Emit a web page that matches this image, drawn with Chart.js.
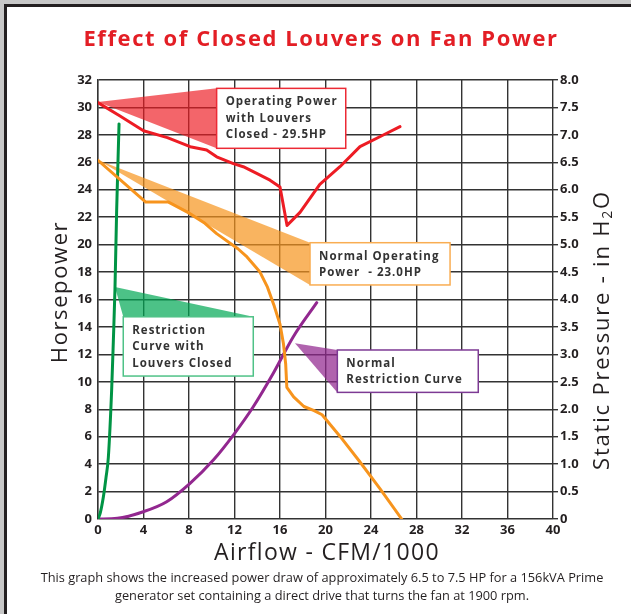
<!DOCTYPE html>
<html>
<head>
<meta charset="utf-8">
<script src="https://cdn.jsdelivr.net/npm/chart.js@4.4.1/dist/chart.umd.min.js"></script>
<style>
    body { margin: 0; background: #c7c7c7; width: 631px; height: 614px; overflow: hidden; position: relative; }
    .page { position: absolute; left: 4px; top: 4px; width: 650px; height: 630px; background: #fff;
            border-left: 3px solid #231f20; border-top: 3px solid #231f20; }
    #wrap { position: absolute; left: 0; top: 0; width: 631px; height: 614px; }
</style>
</head>
<body>
<div class="page"></div>
<div id="wrap"><canvas id="myChart"></canvas></div>
<script>
// FAN POWER / LOUVERS CHART
// airflow in CFM/1000, power in HP (left axis)
const louversClosedX  = [0, 1.9, 4, 6.1, 8.1, 9.55, 10.43, 11.9, 12.77, 13.95, 15.12, 16.0, 16.62, 17.76, 19.5, 21.27, 23.03, 25.08, 26.55];
const louversClosedHP = [30.35, 29.4, 28.3, 27.8, 27.14, 26.9, 26.4, 25.9, 25.68, 25.2, 24.7, 24.2, 21.4, 22.35, 24.4, 25.68, 27.14, 27.99, 28.6];

const normalX  = [0, 4.2, 6.2, 7.9, 9.4, 10.43, 12.3, 13.1, 14.24, 14.9, 15.5, 16.0, 16.3, 16.5, 16.6, 17.2, 18.1, 19.0, 19.7, 21.3, 22.9, 24.8, 26.7];
const normalHP = [26.15, 23.1, 23.1, 22.35, 21.55, 20.8, 19.7, 19.1, 18.0, 16.9, 15.5, 14.2, 12.8, 11.3, 9.6, 8.9, 8.2, 7.9, 7.6, 6.0, 4.3, 2.2, 0];

const restrictClosedX  = [0, 0.2, 0.47, 0.7, 0.91, 1.2, 1.35, 1.49, 1.64, 1.85];
const restrictClosedHP = [0, 0.45, 1.6, 3.0, 4.5, 9.4, 13.0, 16.7, 22.5, 28.8];

const restrictNormalX  = [0, 1.7, 3.98, 6.04, 8.09, 10.14, 11.9, 13.65, 15.41, 17.17, 19.23];
const restrictNormalHP = [0, 0.05, 0.53, 1.26, 2.6, 4.3, 6.12, 8.18, 10.62, 13.29, 15.77];

// callout texts
const redText    = ['Operating Power', 'with Louvers', 'Closed - 29.5HP'];
const orangeText = ['Normal Operating', 'Power  - 23.0HP'];
const greenText  = ['Restriction', 'Curve with', 'Louvers Closed'];
const purpleText = ['Normal', 'Restriction Curve'];

const chartTitle = 'Effect of Closed Louvers on Fan Power';
const caption = ['This graph shows the increased power draw of approximately 6.5 to 7.5 HP for a 156kVA Prime',
                 'generator set containing a direct drive that turns the fan at 1900 rpm.'];

function pts(xs, ys) {
    return xs.map((x, i) => ({ x: x, y: ys[i] }));
}

// callouts placed in data units (x = CFM/1000, y = HP)
const callouts = [
    { fill: 'rgba(237,28,36,0.68)', stroke: '#ec2a35', apex: [0, 30.4], box: [10.43, 31.39, 21.78, 27.02], tri: 'left', text: redText },
    { fill: 'rgba(247,148,29,0.7)', stroke: '#f9ad52', apex: [0, 26.17], box: [18.64, 20.14, 30.95, 17.06], tri: 'left', text: orangeText },
    { fill: 'rgba(0,168,84,0.7)', stroke: '#4fc287', apex: [1.49, 16.91], box: [2.22, 14.74, 13.65, 10.42], tri: 'top', text: greenText },
    { fill: 'rgba(146,39,143,0.72)', stroke: '#7d3a94', apex: [17.32, 12.81], box: [21.04, 12.32, 33.43, 9.23], tri: 'left', text: purpleText }
];

const calloutPlugin = {
    id: 'callouts',
    beforeDatasetsDraw(chart) {
        const { ctx, scales: { x, y } } = chart;
        ctx.save();
        callouts.forEach(c => {
            const ax = x.getPixelForValue(c.apex[0]), ay = y.getPixelForValue(c.apex[1]);
            const l = x.getPixelForValue(c.box[0]), t = y.getPixelForValue(c.box[1]);
            const r = x.getPixelForValue(c.box[2]), b = y.getPixelForValue(c.box[3]);
            ctx.fillStyle = c.fill;
            ctx.beginPath();
            ctx.moveTo(ax, ay);
            if (c.tri === 'left') { ctx.lineTo(l, t); ctx.lineTo(l, b); }
            else { ctx.lineTo(r, t); ctx.lineTo(l, t); }
            ctx.closePath();
            ctx.fill();
        });
        ctx.restore();
    },
    afterDatasetsDraw(chart) {
        const { ctx, scales: { x, y } } = chart;
        ctx.save();
        callouts.forEach(c => {
            const l = x.getPixelForValue(c.box[0]), t = y.getPixelForValue(c.box[1]);
            const r = x.getPixelForValue(c.box[2]), b = y.getPixelForValue(c.box[3]);
            ctx.fillStyle = '#fff';
            ctx.fillRect(l, t, r - l, b - t);
            ctx.strokeStyle = c.stroke;
            ctx.lineWidth = 1.5;
            ctx.strokeRect(l, t, r - l, b - t);
            ctx.fillStyle = '#333';
            ctx.font = 'bold 11.5px "Open Sans"';
            ctx.letterSpacing = '1px';
            ctx.textAlign = 'left';
            ctx.textBaseline = 'alphabetic';
            c.text.forEach((line, i) => ctx.fillText(line, l + 9, t + 17 + i * 16.4));
        });
        ctx.restore();
    },
    afterDraw(chart) {
        const { ctx } = chart;
        ctx.save();
        ctx.textAlign = 'center';
        ctx.textBaseline = 'middle';
        // title
        ctx.fillStyle = '#e31e25';
        ctx.font = 'bold 22px "Open Sans"';
        ctx.letterSpacing = '1.6px';
        ctx.fillText(chartTitle, 321, 40);
        // x axis title
        ctx.fillStyle = '#231f20';
        ctx.font = '23px "Open Sans"';
        ctx.letterSpacing = '1.3px';
        ctx.fillText('Airflow - CFM/1000', 327, 553);
        // left axis title
        ctx.save();
        ctx.translate(61, 292);
        ctx.rotate(-Math.PI / 2);
        ctx.font = '22px "Open Sans"';
        ctx.letterSpacing = '1.6px';
        ctx.fillText('Horsepower', 0, 0);
        ctx.restore();
        // right axis title with subscript
        ctx.save();
        ctx.translate(603, 330);
        ctx.rotate(-Math.PI / 2);
        ctx.textAlign = 'left';
        ctx.letterSpacing = '1.8px';
        const mainFont = '22px "Open Sans"', subFont = '14px "Open Sans"';
        const part1 = 'Static Pressure - in H', part2 = '2', part3 = 'O';
        ctx.font = mainFont;
        const w1 = ctx.measureText(part1).width, w3 = ctx.measureText(part3).width;
        ctx.font = subFont;
        const w2 = ctx.measureText(part2).width;
        let px = -(w1 + w2 + w3) / 2;
        ctx.font = mainFont;
        ctx.fillText(part1, px, 0);
        px += w1;
        ctx.font = subFont;
        ctx.fillText(part2, px, 5);
        px += w2;
        ctx.font = mainFont;
        ctx.fillText(part3, px, 0);
        ctx.restore();
        // caption
        ctx.fillStyle = '#231f20';
        ctx.font = '12.8px "Open Sans"';
        ctx.letterSpacing = '0px';
        ctx.fillText(caption[0], 322, 578);
        ctx.fillText(caption[1], 322, 596);
        ctx.restore();
    }
};

const ctx = document.getElementById('myChart').getContext('2d');
const gridColor = '#333';
const tickFont = { family: '"Open Sans"', size: 13, weight: 'bold' };

const chart = new Chart(ctx, {
    type: 'line',
    data: {
        datasets: [
            { label: 'Operating Power with Louvers Closed', data: pts(louversClosedX, louversClosedHP), borderColor: '#ed1c24', borderWidth: 3, tension: 0 },
            { label: 'Normal Operating Power', data: pts(normalX, normalHP), borderColor: '#f7941d', borderWidth: 3, tension: 0 },
            { label: 'Restriction Curve with Louvers Closed', data: pts(restrictClosedX, restrictClosedHP), borderColor: '#009444', borderWidth: 3, cubicInterpolationMode: 'monotone' },
            { label: 'Normal Restriction Curve', data: pts(restrictNormalX, restrictNormalHP), borderColor: '#92278f', borderWidth: 3, cubicInterpolationMode: 'monotone' }
        ]
    },
    options: {
        responsive: true,
        maintainAspectRatio: false,
        devicePixelRatio: 1,
        animation: false,
        layout: { padding: { top: 80, left: 0, right: 0, bottom: 0 } },
        elements: { point: { radius: 0 }, line: { borderCapStyle: 'round', borderJoinStyle: 'round' } },
        plugins: { legend: { display: false }, tooltip: { enabled: false } },
        scales: {
            x: {
                type: 'linear', min: 0, max: 40,
                ticks: { stepSize: 4, font: tickFont, color: '#231f20', padding: 3, maxRotation: 0 },
                grid: { color: gridColor, lineWidth: 1.4, drawTicks: false },
                border: { display: false },
                afterFit(scale) { scale.height = 95; }
            },
            y: {
                type: 'linear', position: 'left', min: 0, max: 32,
                ticks: { stepSize: 2, font: tickFont, color: '#231f20', padding: 6 },
                grid: { color: gridColor, lineWidth: 1.4, drawTicks: false },
                border: { color: gridColor, width: 1.4 },
                afterFit(scale) { scale.width = 98; }
            },
            y2: {
                type: 'linear', position: 'right', min: 0, max: 8,
                ticks: {
                    stepSize: 0.5, font: tickFont, color: '#231f20', padding: 2,
                    callback: (v) => v === 0 ? '0' : v.toFixed(1)
                },
                grid: { drawOnChartArea: false, color: gridColor, tickLength: 5, lineWidth: 1.4 },
                border: { display: false },
                afterFit(scale) { scale.width = 78; }
            }
        }
    },
    plugins: [calloutPlugin]
});
</script>
</body>
</html>
